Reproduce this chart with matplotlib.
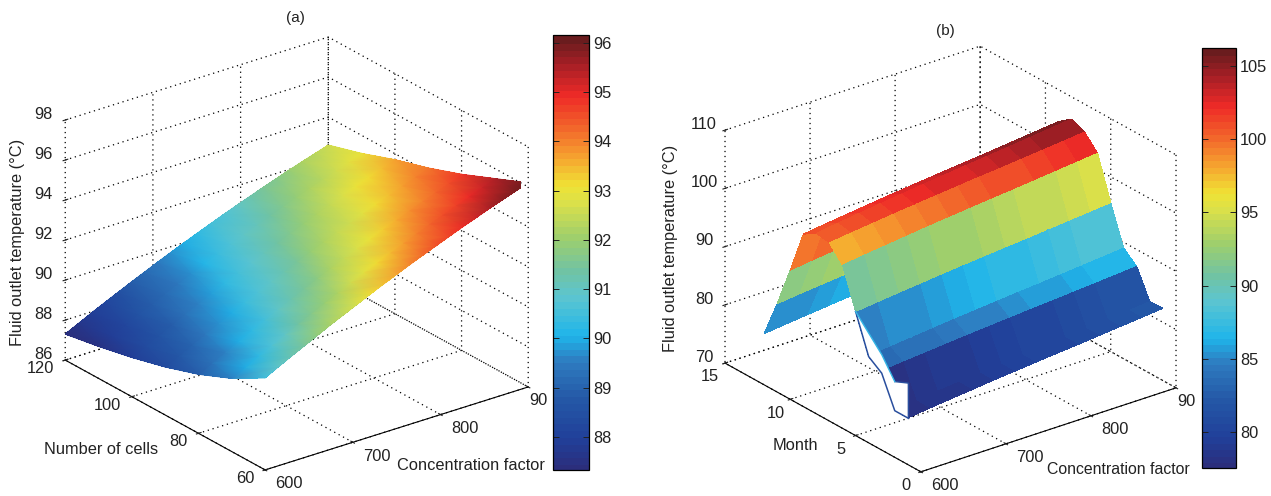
import numpy as np
import matplotlib
matplotlib.use("Agg")
import matplotlib.pyplot as plt
from matplotlib.cm import ScalarMappable
from matplotlib.colors import LinearSegmentedColormap, Normalize
from matplotlib.transforms import ScaledTranslation
from mpl_toolkits.mplot3d import proj3d
from mpl_toolkits.mplot3d.art3d import Poly3DCollection

plt.rcParams['font.family'] = ['Liberation Sans', 'DejaVu Sans']

W, H = 1271, 496

# panel (a)
cf_a = [600, 615, 630, 645, 660, 675, 690, 705, 720, 735, 750, 765, 780, 795, 810, 825, 840, 855, 870, 885, 900]
cells = [60, 70, 80, 90, 100, 110, 120]
temp_a = [
    [90.60, 90.94, 91.27, 91.59, 91.91, 92.23, 92.53, 92.83, 93.13, 93.42, 93.70, 93.98, 94.25, 94.51, 94.77, 95.03, 95.27, 95.52, 95.75, 95.98, 96.20],
    [89.66, 90.01, 90.35, 90.69, 91.02, 91.35, 91.66, 91.98, 92.28, 92.59, 92.88, 93.17, 93.45, 93.73, 94.00, 94.27, 94.52, 94.78, 95.02, 95.27, 95.50],
    [88.95, 89.30, 89.64, 89.98, 90.31, 90.64, 90.96, 91.27, 91.58, 91.88, 92.18, 92.47, 92.75, 93.03, 93.30, 93.56, 93.82, 94.08, 94.32, 94.56, 94.80],
    [88.40, 88.75, 89.09, 89.42, 89.75, 90.08, 90.39, 90.70, 91.01, 91.31, 91.60, 91.89, 92.17, 92.44, 92.71, 92.98, 93.23, 93.48, 93.73, 93.97, 94.20],
    [87.96, 88.30, 88.64, 88.97, 89.30, 89.62, 89.93, 90.24, 90.54, 90.84, 91.13, 91.41, 91.69, 91.96, 92.23, 92.49, 92.74, 92.99, 93.23, 93.47, 93.70],
    [87.60, 87.93, 88.26, 88.58, 88.89, 89.20, 89.50, 89.80, 90.09, 90.37, 90.65, 90.92, 91.19, 91.45, 91.70, 91.95, 92.19, 92.43, 92.66, 92.88, 93.10],
    [87.30, 87.62, 87.94, 88.25, 88.55, 88.85, 89.14, 89.43, 89.71, 89.98, 90.25, 90.51, 90.77, 91.02, 91.26, 91.50, 91.73, 91.96, 92.18, 92.39, 92.60],
]

# panel (b)
cf_b = [600, 625, 650, 675, 700, 725, 750, 775, 800, 825, 850, 875, 900]
months = [1, 2, 3, 4, 5, 6, 7, 8, 9, 10, 11, 12]
temp_b = [
    [78.00, 78.44, 78.84, 79.23, 79.63, 79.98, 80.33, 80.68, 80.99, 81.34, 81.70, 82.05, 82.40],
    [78.10, 78.52, 78.90, 79.28, 79.65, 79.99, 80.33, 80.66, 80.96, 81.29, 81.63, 81.96, 82.30],
    [83.50, 83.86, 84.18, 84.51, 84.83, 85.12, 85.41, 85.70, 85.95, 86.24, 86.52, 86.81, 87.10],
    [84.80, 85.22, 85.60, 85.98, 86.35, 86.69, 87.03, 87.36, 87.66, 87.99, 88.33, 88.66, 89.00],
    [91.30, 91.73, 92.12, 92.50, 92.89, 93.24, 93.58, 93.92, 94.22, 94.57, 94.91, 95.26, 95.60],
    [98.00, 98.48, 98.91, 99.34, 99.78, 100.16, 100.54, 100.93, 101.26, 101.65, 102.03, 102.42, 102.80],
    [100.60, 101.06, 101.47, 101.89, 102.30, 102.67, 103.04, 103.41, 103.73, 104.10, 104.46, 104.83, 105.20],
    [101.00, 101.52, 101.99, 102.46, 102.92, 103.34, 103.76, 104.17, 104.54, 104.95, 105.37, 105.78, 106.20],
    [99.60, 100.09, 100.53, 100.97, 101.41, 101.81, 102.20, 102.59, 102.93, 103.32, 103.72, 104.11, 104.50],
    [92.20, 92.68, 93.11, 93.54, 93.98, 94.36, 94.74, 95.13, 95.46, 95.85, 96.23, 96.62, 97.00],
    [85.20, 85.61, 85.98, 86.35, 86.72, 87.05, 87.37, 87.70, 87.99, 88.32, 88.64, 88.97, 89.30],
    [78.80, 79.22, 79.60, 79.98, 80.35, 80.69, 81.03, 81.36, 81.66, 81.99, 82.33, 82.66, 83.00],
]

# the white fold at the front of (b)
fold_months = [1, 2, 3, 4, 5]
fold_outer = [78.0, 78.0, 83.2, 84.8, 91.3]
fold_inner_months = [1, 2, 3, 5]
fold_inner = [84.0, 83.0, 86.4, 91.3]

cmap_pos = [0, .07, .16, .25, .31, .40, .46, .54, .62, .66, .72, .79, .87, .94, 1]
cmap_col = ['#2b2e7c', '#21409a', '#2457a6', '#2e7cc0', '#1fb5ea', '#5cc5d0', '#70c3a4', '#9fcf6c',
            '#dbe04a', '#efe235', '#f6a930', '#f26a2b', '#ee2a27', '#a91f26', '#6a1c1e']
jet_like = LinearSegmentedColormap.from_list('jet_like', list(zip(cmap_pos, cmap_col)), N=64)

FS = 11.8
TC = '#222222'


def px_rect(left, top, right, bottom):
    return [left / W, 1 - bottom / H, (right - left) / W, (bottom - top) / H]


def setup_axes(rect, azim, elev, aspect, zoom, xlim, ylim, zlim, xticks, yticks, zticks, xlabels, ypad, yha):
    ax = fig.add_axes(rect, projection='3d', proj_type='ortho', computed_zorder=False)
    ax.patch.set_alpha(0)
    ax.view_init(elev=elev, azim=azim)
    ax.set_box_aspect(aspect, zoom=zoom)
    ax.set_xlim(*xlim)
    ax.set_ylim(*ylim)
    ax.set_zlim(*zlim)
    ax.set_xticks(xticks)
    ax.set_xticklabels(xlabels)
    ax.set_yticks(yticks)
    ax.set_zticks(zticks)
    for axis in (ax.xaxis, ax.yaxis, ax.zaxis):
        axis.set_pane_color((1, 1, 1, 1))
        axis.pane.set_edgecolor('none')
        axis._axinfo['grid'].update(color='k', linestyle=(0, (1, 3)), linewidth=0.9)
        axis._axinfo['tick']['inward_factor'] = 0.1
        axis._axinfo['tick']['outward_factor'] = 0.12
        axis._axinfo['axisline']['linewidth'] = 0.9
    ax.zaxis.line.set_color('none')
    ax.zaxis.set_ticks_position('upper')
    ax.tick_params(axis='both', labelsize=FS, colors=TC)
    ax.tick_params(axis='x', pad=1)
    ax.tick_params(axis='y', pad=ypad)
    ax.tick_params(axis='z', pad=0)
    # the last concentration label is cut off by the colourbar in the original
    for lab in ax.get_xticklabels()[:-1]:
        lab.set_ha('left')
    for lab in ax.get_yticklabels():
        lab.set_ha(yha)
    nudge = ScaledTranslation(0, -0.045, fig.dpi_scale_trans)
    for lab in ax.get_xticklabels() + ax.get_yticklabels() + ax.get_zticklabels():
        lab.set_va('baseline')
        lab.set_transform(ax.transData + nudge)
    return ax


def add_cbar(rect, vmin, vmax, ticks):
    cax = fig.add_axes(rect)
    sm = ScalarMappable(norm=Normalize(vmin, vmax), cmap=jet_like)
    cb = fig.colorbar(sm, cax=cax)
    cb.set_ticks(ticks)
    cb.solids.set_edgecolor('face')
    cb.outline.set_linewidth(0.9)
    cax.tick_params(axis='y', which='both', direction='in', left=True, right=True, length=4, width=0.7,
                    labelsize=FS, pad=3, colors=TC)
    return cax


fig = plt.figure(figsize=(W / 100, H / 100), dpi=100)

# (a)
rect_a = px_rect(60.5, 29.7, 520.5, 489.7)
ax1 = setup_axes(rect_a, -127.15, 24.6, (330, 331, 264), 1.133,
                 (600, 900), (60, 120), (86, 98),
                 [600, 700, 800, 900], [60, 80, 100, 120], [86, 88, 90, 92, 94, 96, 98],
                 ['600', '700', '800', '90'], -1, 'right')
Xa, Ya = np.meshgrid(cf_a, cells)
norm_a = Normalize(87.33, 96.16)
Za = np.array(temp_a)
ax1.plot_surface(Xa, Ya, Za, rstride=1, cstride=1, cmap=jet_like, norm=norm_a, linewidth=0,
                 antialiased=False, shade=False)
# smooth shading of the same table on top, like matlab's shading interp
ax1.apply_aspect()
xs, ys, _ = proj3d.proj_transform(Xa.ravel(), Ya.ravel(), Za.ravel(), ax1.get_proj())
smooth = fig.add_axes(rect_a, frameon=False)
smooth.set_xlim(ax1.viewLim.intervalx)
smooth.set_ylim(ax1.viewLim.intervaly)
smooth.set_axis_off()
smooth.pcolormesh(np.reshape(xs, Xa.shape), np.reshape(ys, Xa.shape), Za, shading='gouraud',
                  cmap=jet_like, norm=norm_a)
add_cbar(px_rect(553, 35, 589, 470), 87.33, 96.16, [88, 89, 90, 91, 92, 93, 94, 95, 96])

# (b)
ax2 = setup_axes(px_rect(714.3, 35.2, 1174.3, 495.2), -127.6, 25.3, (322, 321, 257.7), 1.103,
                 (600, 900), (0, 15), (70, 110),
                 [600, 700, 800, 900], [0, 5, 10, 15], [70, 80, 90, 100, 110],
                 ['600', '700', '800', '90'], 2, 'center')
Xb, Yb = np.meshgrid(cf_b, months)
Zb = np.array(temp_b)
norm_b = Normalize(77.54, 106.25)
# facet takes the colour of its first corner, as in the original
ax2.plot_surface(Xb, Yb, Zb, rstride=1, cstride=1, facecolors=jet_like(norm_b(Zb)), linewidth=0,
                 antialiased=False, shade=False)
fold = list(zip([600] * 5, fold_months, fold_outer)) + list(zip([600] * 4, fold_inner_months, fold_inner))[::-1]
ax2.add_collection3d(Poly3DCollection([fold], facecolors='white', edgecolors='none'))
ax2.plot([600] * 5, fold_months, fold_outer, color='#2a4f9e', lw=1.1)
ax2.plot([600] * 2, fold_inner_months[:2], fold_inner[:2], color='#2a4f9e', lw=1.0)
ax2.plot([600] * 3, fold_inner_months[1:], fold_inner[1:], color='#35b5e5', lw=1.0)
ax2.plot([600, 600], [1, 1], [78.0, 84.0], color='#2a4f9e', lw=1.0)
add_cbar(px_rect(1202, 47.7, 1236, 468), 77.54, 106.25, [80, 85, 90, 95, 100, 105])

# labels
fig.text(295 / W, 1 - 18 / H, '(a)', ha='center', va='center', fontsize=11, color=TC)
fig.text(945 / W, 1 - 31 / H, '(b)', ha='center', va='center', fontsize=11, color=TC)
fig.text(18 / W, 1 - 242 / H, 'Fluid outlet temperature (°C)', rotation=90, ha='center', va='center', fontsize=FS, color=TC)
fig.text(671 / W, 1 - 248 / H, 'Fluid outlet temperature (°C)', rotation=90, ha='center', va='center', fontsize=FS, color=TC)
fig.text(101 / W, 1 - 449 / H, 'Number of cells', ha='center', va='center', fontsize=FS, color=TC)
fig.text(795 / W, 1 - 445 / H, 'Month', ha='center', va='center', fontsize=FS, color=TC)
fig.text(471 / W, 1 - 465 / H, 'Concentration factor', ha='center', va='center', fontsize=FS, color=TC)
fig.text(1118 / W, 1 - 470 / H, 'Concentration factor', ha='center', va='center', fontsize=11.4, color=TC)

fig.savefig('out.png', dpi=100)
